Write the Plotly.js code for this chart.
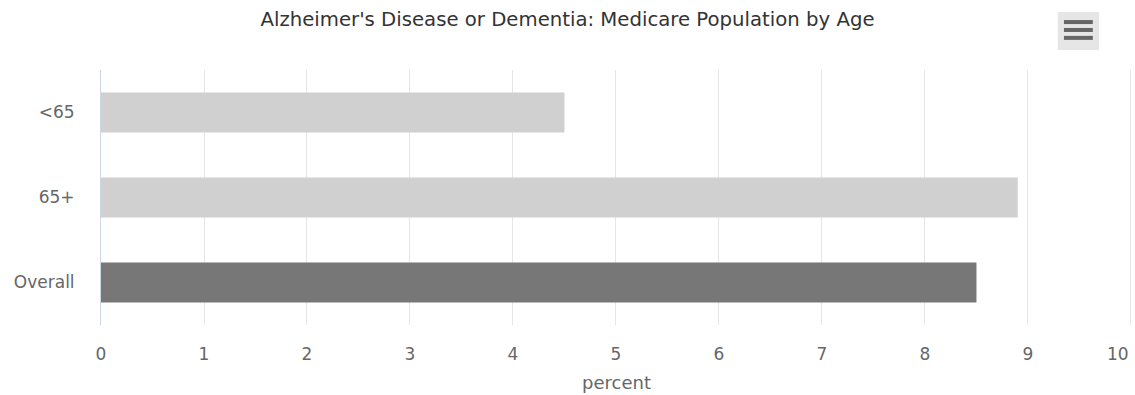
<!DOCTYPE html>
<html>
<head>
<meta charset="utf-8">
<script src="https://cdn.plot.ly/plotly-3.0.1.min.js"></script>
<style>html,body{margin:0;padding:0;background:#fff;}#chart{width:1135px;height:395px;}</style>
</head>
<body>
<div id="chart"></div>
<script>
const categories = ['<65', '65+', 'Overall'];
const values = [4.5, 8.9, 8.5];
const barColors = ['#d0d0d0', '#d0d0d0', '#777777'];
const xTicks = [0, 1, 2, 3, 4, 5, 6, 7, 8, 9, 10];
const xTickText = ['0', '1', '2', '3', '4', '5', '6', '7', '8', '9', '10'];

const font = 'DejaVu Sans, sans-serif';

const trace = {
  type: 'bar',
  orientation: 'h',
  y: categories,
  x: values,
  width: 0.47,
  marker: {color: barColors},
  hoverinfo: 'x+y'
};

// last tick label is drawn right-aligned at its tick so it stays inside the chart
const lastIdx = xTicks.length - 1;
const shownTickText = xTickText.map((t, i) => (i === lastIdx ? '' : t));

const layout = {
  width: 1135,
  height: 395,
  margin: {l: 101, r: 3, t: 70, b: 70},
  paper_bgcolor: '#ffffff',
  plot_bgcolor: '#ffffff',
  showlegend: false,
  title: {
    text: "Alzheimer's Disease or Dementia: Medicare Population by Age",
    font: {family: font, size: 19.7, color: '#333333'},
    x: 0.5, xanchor: 'center', y: 0.952, yanchor: 'middle'
  },
  xaxis: {
    range: [0, 10.01],
    tickvals: xTicks,
    ticktext: shownTickText,
    showgrid: true,
    gridcolor: '#e6e6e6',
    zeroline: false,
    showline: false,
    ticks: 'outside',
    ticklen: 14,
    tickcolor: 'rgba(0,0,0,0)',
    tickfont: {family: font, size: 17, color: '#666666'},
    title: {text: 'percent', font: {family: font, size: 18, color: '#666666'}, standoff: 12},
    fixedrange: true
  },
  yaxis: {
    type: 'category',
    categoryorder: 'array',
    categoryarray: categories,
    autorange: 'reversed',
    showgrid: false,
    zeroline: false,
    showline: true,
    linecolor: '#ccd6eb',
    linewidth: 1,
    ticks: 'outside',
    ticklen: 22,
    tickcolor: 'rgba(0,0,0,0)',
    tickfont: {family: font, size: 17, color: '#666666'},
    fixedrange: true
  },
  annotations: [
    {text: xTickText[lastIdx], x: xTicks[lastIdx], xref: 'x', xanchor: 'right',
     y: -0.114, yref: 'paper', yanchor: 'middle', showarrow: false,
     font: {family: font, size: 17, color: '#666666'}}
  ],
  shapes: [
    {type: 'rect', xref: 'paper', yref: 'paper', x0: 0.928, x1: 0.968, y0: 1.078, y1: 1.227,
     fillcolor: '#e6e6e6', line: {width: 0}},
    {type: 'line', xref: 'paper', yref: 'paper', x0: 0.934, x1: 0.962, y0: 1.188, y1: 1.188, line: {color: '#666666', width: 4}},
    {type: 'line', xref: 'paper', yref: 'paper', x0: 0.934, x1: 0.962, y0: 1.157, y1: 1.157, line: {color: '#666666', width: 4}},
    {type: 'line', xref: 'paper', yref: 'paper', x0: 0.934, x1: 0.962, y0: 1.126, y1: 1.126, line: {color: '#666666', width: 4}}
  ]
};

Plotly.newPlot('chart', [trace], layout, {displayModeBar: false, responsive: false});
</script>
</body>
</html>
